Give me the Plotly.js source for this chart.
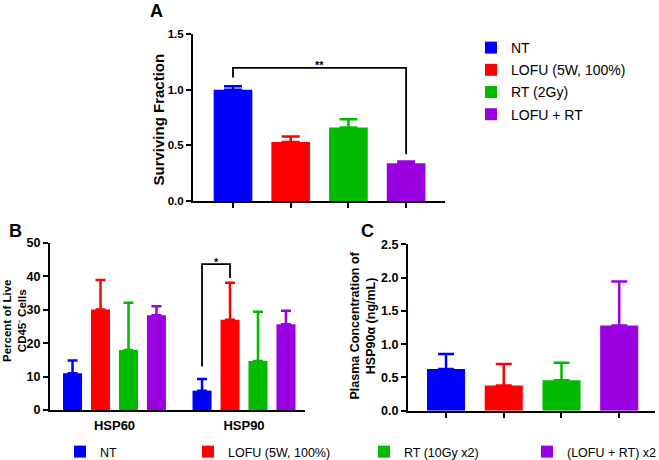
<!DOCTYPE html>
<html>
<head>
<meta charset="utf-8">
<script src="https://cdn.plot.ly/plotly-3.0.1.min.js"></script>
<style>html,body{margin:0;padding:0;background:#fff;}#chart{width:659px;height:460px;}</style>
</head>
<body>
<div id="chart"></div>
<script>
// ---------- data ----------
var colors = ['#0000FF', '#FF0000', '#00BB00', '#9B00E0'];

// Panel A: surviving fraction
var groupsA = ['NT', 'LOFU (5W, 100%)', 'RT (2Gy)', 'LOFU + RT'];
var survivingMean = [1.00, 0.53, 0.66, 0.34];
var survivingErr = [0.03, 0.05, 0.075, 0.015];
var sigA = {from: 0, to: 3, top: 1.195, legFrom: 1.11, legTo: 0.42, label: '**'};

// Panel B: percent of live CD45- cells
var proteinsB = ['HSP60', 'HSP90'];
var groupsB = ['NT', 'LOFU (5W, 100%)', 'RT (10Gy x2)', '(LOFU + RT) x2'];
var percentMean = [[11.0, 5.8], [30.1, 27.0], [18.0, 14.7], [28.4, 25.7]];
var percentErr = [[3.8, 3.5], [8.8, 11.1], [14.1, 14.7], [2.7, 4.0]];
var sigB = {category: 1, fromSeries: 0, toSeries: 1, top: 43.7, legFrom: 13.0, legTo: 39.5, label: '*'};

// Panel C: plasma HSP90a
var groupsC = ['NT', 'LOFU (5W, 100%)', 'RT (10Gy x2)', '(LOFU + RT) x2'];
var plasmaMean = [0.626, 0.38, 0.456, 1.28];
var plasmaErr = [0.225, 0.32, 0.265, 0.66];

// ---------- layout helpers ----------
var W = 659, H = 460;
function px(x) { return x / W; }
function py(y) { return (H - y) / H; }
var FONT = 'Liberation Sans, Arial, sans-serif';

var traces = [];
var barW = 0.67;
groupsA.forEach(function (g, i) {
  traces.push({
    type: 'bar', x: [g], y: [survivingMean[i]], name: g,
    xaxis: 'x', yaxis: 'y', legend: 'legend', legendgroup: 'a' + i,
    width: barW, offset: -barW / 2,
    marker: {color: colors[i], line: {width: 0}},
    error_y: {type: 'data', symmetric: false, array: [survivingErr[i]], arrayminus: [0],
      color: colors[i], thickness: 2.5, width: 9}
  });
});

var slotB = 0.216, wB = 0.147;
groupsB.forEach(function (g, i) {
  traces.push({
    type: 'bar', x: proteinsB, y: percentMean[i], name: g,
    xaxis: 'x2', yaxis: 'y2', legend: 'legend' + (i + 2),
    width: wB, offset: (i - 1.5) * slotB - wB / 2,
    marker: {color: colors[i], line: {width: 0}},
    error_y: {type: 'data', symmetric: false, array: percentErr[i], arrayminus: [0, 0],
      color: colors[i], thickness: 2.5, width: 5}
  });
});

var wC = 0.66;
groupsC.forEach(function (g, i) {
  traces.push({
    type: 'bar', x: [g], y: [plasmaMean[i]], name: g, showlegend: false,
    xaxis: 'x3', yaxis: 'y3',
    width: wC, offset: -wC / 2,
    marker: {color: colors[i], line: {width: 0}},
    error_y: {type: 'data', symmetric: false, array: [plasmaErr[i]], arrayminus: [0],
      color: colors[i], thickness: 2.5, width: 8}
  });
});

function tf(size) { return {family: FONT, size: size, color: '#000', weight: 'bold'}; }
var axisCommon = {
  showline: true, linecolor: '#000', linewidth: 2, ticks: 'outside', ticklen: 5,
  tickwidth: 2, tickcolor: '#000', showgrid: false, zeroline: false, fixedrange: true,
  tickfont: tf(12.5)
};
function ax(extra) { return Object.assign({}, axisCommon, extra); }

var bx1 = 1 + (sigB.fromSeries - 1.5) * slotB;
var bx2 = 1 + (sigB.toSeries - 1.5) * slotB;

var shapes = [
  {type: 'path', xref: 'x', yref: 'y',
   path: 'M ' + sigA.from + ',' + sigA.legFrom + ' L ' + sigA.from + ',' + sigA.top +
         ' L ' + sigA.to + ',' + sigA.top + ' L ' + sigA.to + ',' + sigA.legTo,
   line: {color: '#000', width: 1.8}},
  {type: 'path', xref: 'x2', yref: 'y2',
   path: 'M ' + bx1 + ',' + sigB.legFrom + ' L ' + bx1 + ',' + sigB.top +
         ' L ' + bx2 + ',' + sigB.top + ' L ' + bx2 + ',' + sigB.legTo,
   line: {color: '#000', width: 1.8}}
];

function titleAnn(text, x, y, size) {
  return {text: text, xref: 'paper', yref: 'paper', x: x, y: y, xanchor: 'center', yanchor: 'middle',
    textangle: -90, showarrow: false, font: tf(size)};
}
function panelAnn(text, x, y) {
  return {text: text, xref: 'paper', yref: 'paper', x: x, y: y, xanchor: 'center', yanchor: 'top',
    showarrow: false, font: tf(18)};
}

var annotations = [
  panelAnn('A', px(156), py(-1)),
  panelAnn('B', px(15), py(219)),
  panelAnn('C', px(367), py(219)),
  titleAnn('Surviving Fraction', px(157.5), py(120), 15),
  titleAnn('Percent of Live<br>CD45<sup>-</sup> Cells', px(14), py(321), 11.5),
  titleAnn('Plasma Concentration of<br>HSP90\u03b1 (ng/mL)', px(362.5), py(326), 12.5),
  {text: sigA.label, xref: 'x', yref: 'y', x: (sigA.from + sigA.to) / 2, y: sigA.top, yanchor: 'bottom',
   yshift: -5, showarrow: false, font: tf(11)},
  {text: sigB.label, xref: 'x2', yref: 'y2', x: (bx1 + bx2) / 2, y: sigB.top, yanchor: 'bottom',
   yshift: -6, showarrow: false, font: tf(11)}
];

var legFont = {family: FONT, size: 14, color: '#000'};
var legFont2 = {family: FONT, size: 12.5, color: '#000'};
function bottomLegend(textStart) {
  return {x: px(textStart - 40), xanchor: 'left', y: py(452), yanchor: 'middle',
    orientation: 'h', font: legFont2, bgcolor: 'rgba(0,0,0,0)', borderwidth: 0};
}

var layout = {
  width: W, height: H,
  margin: {l: 0, r: 0, t: 0, b: 0, autoexpand: false},
  paper_bgcolor: '#fff', plot_bgcolor: '#fff',
  font: {family: FONT, color: '#000'},
  barmode: 'group',
  xaxis: ax({domain: [px(193), px(445)], type: 'category', range: [-0.693, 3.674], showticklabels: false, anchor: 'y'}),
  yaxis: ax({domain: [py(201), py(34)], range: [0, 1.5], dtick: 0.5, tickformat: '.1f', anchor: 'x', tickfont: tf(11.5)}),
  xaxis2: ax({domain: [px(50), px(305)], type: 'category', range: [-0.498, 1.471], ticks: '', anchor: 'y2',
    ticklabelstandoff: 2, tickfont: tf(13)}),
  yaxis2: ax({domain: [py(410), py(243)], range: [0, 50], dtick: 10, anchor: 'x2'}),
  xaxis3: ax({domain: [px(408), px(655)], type: 'category', range: [-0.659, 3.62], showticklabels: false, anchor: 'y3'}),
  yaxis3: ax({domain: [py(410.7), py(244.3)], range: [0, 2.5], dtick: 0.5, tickformat: '.1f', anchor: 'x3'}),
  legend: {x: px(471), xanchor: 'left', y: py(32), yanchor: 'top', font: legFont,
    bgcolor: 'rgba(0,0,0,0)', borderwidth: 0, traceorder: 'grouped', tracegroupgap: 1},
  legend2: bottomLegend(100),
  legend3: bottomLegend(228),
  legend4: bottomLegend(404),
  legend5: bottomLegend(567),
  shapes: shapes,
  annotations: annotations
};

Plotly.newPlot('chart', traces, layout, {displayModeBar: false, staticPlot: true});
</script>
</body>
</html>
